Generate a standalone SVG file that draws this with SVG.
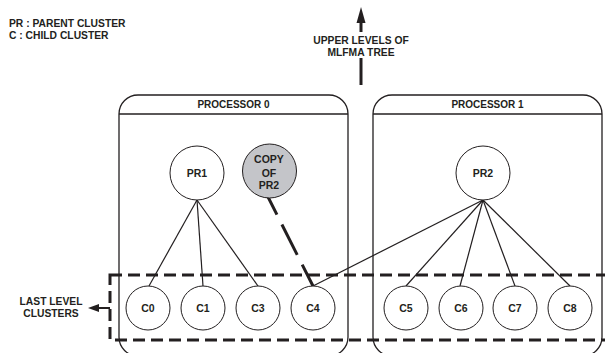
<svg xmlns="http://www.w3.org/2000/svg" width="605" height="353" viewBox="0 0 605 353">
  <defs>
    <style>
      text { font-family: "Liberation Sans", Arial, sans-serif; font-weight: bold; fill: #231f20; }
      .legend { font-size: 10.3px; }
      .title { font-size: 10px; text-anchor: middle; }
      .lbl { font-size: 10.5px; text-anchor: middle; }
      .side { font-size: 10.3px; text-anchor: middle; }
      .box { fill: none; stroke: #231f20; stroke-width: 1.3; }
      .node { fill: #ffffff; stroke: #231f20; stroke-width: 1; }
      .copy { fill: #c4c5c9; stroke: #231f20; stroke-width: 1; }
      .edge { fill: none; stroke: #231f20; stroke-width: 1.2; }
      .remote { fill: none; stroke: #231f20; stroke-width: 3; stroke-dasharray: 34 11; }
      .level { fill: none; stroke: #231f20; stroke-width: 3; stroke-dasharray: 12 6; }
      .shaft { stroke: #231f20; stroke-width: 3; fill: none; }
      .head { fill: #231f20; }
    </style>
  </defs>

  <rect width="605" height="353" fill="#ffffff"/>

  <!-- legend -->
  <g id="legend">
    <text class="legend" x="9" y="27">PR : PARENT CLUSTER</text>
    <text class="legend" x="9" y="38.5">C : CHILD CLUSTER</text>
  </g>

  <!-- processor partitions -->
  <g id="processor0">
    <rect class="box" x="119" y="95" width="229" height="261" rx="19" ry="19"/>
    <line class="box" x1="119" y1="114" x2="348" y2="114"/>
    <text class="title" x="233.5" y="108">PROCESSOR 0</text>
  </g>
  <g id="processor1">
    <rect class="box" x="373" y="95" width="229" height="261" rx="19" ry="19"/>
    <line class="box" x1="373" y1="114" x2="602" y2="114"/>
    <text class="title" x="487.5" y="108">PROCESSOR 1</text>
  </g>

  <!-- tree edges -->
  <g id="connectors">
    <line class="edge" x1="197" y1="200" x2="149" y2="286"/>
    <line class="edge" x1="197" y1="200" x2="203" y2="286"/>
    <line class="edge" x1="197" y1="200" x2="258" y2="286"/>
    <line class="edge" x1="483" y1="200" x2="313" y2="286"/>
    <line class="edge" x1="483" y1="200" x2="406" y2="286"/>
    <line class="edge" x1="483" y1="200" x2="460" y2="286"/>
    <line class="edge" x1="483" y1="200" x2="515" y2="286"/>
    <line class="edge" x1="483" y1="200" x2="570" y2="286"/>
    <line class="remote" x1="261.6" y1="184.3" x2="313" y2="286"/>
    <!-- link towards the upper tree levels -->
    <line class="shaft" x1="361" y1="85" x2="361" y2="58"/>
    <line class="shaft" x1="361" y1="32" x2="361" y2="21"/>
    <polygon class="head" points="361,7 356.5,23 365.5,23"/>
    <!-- pointer to the last-level group -->
    <line class="shaft" x1="110" y1="308" x2="98" y2="308" style="stroke-width:2"/>
    <polygon class="head" points="88,308 99,304 99,312"/>
  </g>

  <!-- last level grouping (right side runs past the page edge) -->
  <g id="last-level">
    <rect class="level" x="110" y="275" width="498" height="65"/>
  </g>

  <text class="side" x="361" y="44">UPPER LEVELS OF</text>
  <text class="side" x="361" y="55.5">MLFMA TREE</text>
  <text class="side" x="51" y="305">LAST LEVEL</text>
  <text class="side" x="51" y="317">CLUSTERS</text>

  <!-- parent clusters -->
  <g id="PR1">
    <circle class="node" cx="197" cy="173" r="27"/>
    <text class="lbl" x="197" y="177">PR1</text>
  </g>
  <g id="PR2-copy">
    <circle class="copy" cx="269.5" cy="171" r="27"/>
    <text class="lbl" x="269" y="163">COPY</text>
    <text class="lbl" x="269" y="176.5">OF</text>
    <text class="lbl" x="269" y="189">PR2</text>
  </g>
  <g id="PR2">
    <circle class="node" cx="483" cy="173" r="27"/>
    <text class="lbl" x="483" y="177">PR2</text>
  </g>

  <!-- child clusters -->
  <g id="C0">
    <circle class="node" cx="148" cy="308" r="22"/>
    <text class="lbl" x="148" y="312">C0</text>
  </g>
  <g id="C1">
    <circle class="node" cx="203" cy="308" r="22"/>
    <text class="lbl" x="203" y="312">C1</text>
  </g>
  <g id="C3">
    <circle class="node" cx="258" cy="308" r="22"/>
    <text class="lbl" x="258" y="312">C3</text>
  </g>
  <g id="C4">
    <circle class="node" cx="313" cy="308" r="22"/>
    <text class="lbl" x="313" y="312">C4</text>
  </g>
  <g id="C5">
    <circle class="node" cx="406" cy="308" r="22"/>
    <text class="lbl" x="406" y="312">C5</text>
  </g>
  <g id="C6">
    <circle class="node" cx="461" cy="308" r="22"/>
    <text class="lbl" x="461" y="312">C6</text>
  </g>
  <g id="C7">
    <circle class="node" cx="515" cy="308" r="22"/>
    <text class="lbl" x="515" y="312">C7</text>
  </g>
  <g id="C8">
    <circle class="node" cx="570" cy="308" r="22"/>
    <text class="lbl" x="570" y="312">C8</text>
  </g>
</svg>
